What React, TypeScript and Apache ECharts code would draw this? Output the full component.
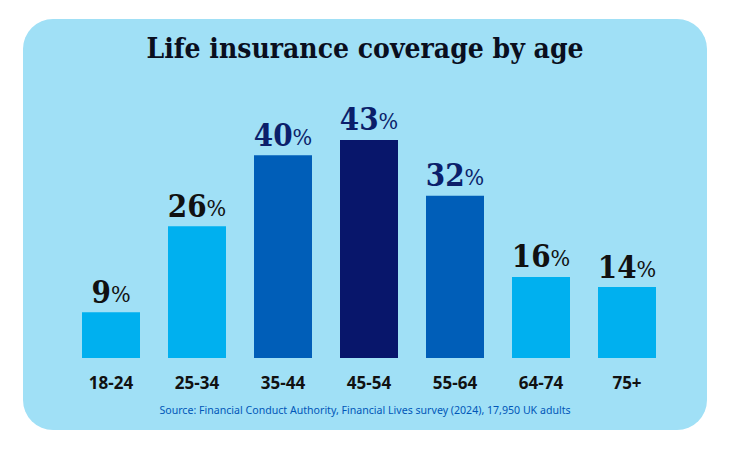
import React, { useEffect, useRef } from "react";
import * as echarts from "echarts";

const categories = ["18-24", "25-34", "35-44", "45-54", "55-64", "64-74", "75+"];
const values = [9, 26, 40, 43, 32, 16, 14];
const barColors = ["#00B0EF", "#00B0EF", "#005EB8", "#08166B", "#005EB8", "#00B0EF", "#00B0EF"];
const labelColors = ["#111111", "#111111", "#0B1F6B", "#0B1F6B", "#0B1F6B", "#111111", "#111111"];
const titleText = "Life insurance coverage by age";
const sourceText = "Source: Financial Conduct Authority, Financial Lives survey (2024), 17,950 UK adults";

const SERIF = "'DejaVu Serif Condensed', 'Liberation Serif', serif";

export default function App() {
  const ref = useRef<HTMLDivElement>(null);
  useEffect(() => {
    if (!ref.current) return;
    const chart = echarts.init(ref.current, null, { renderer: "svg" });
    chart.setOption({
      animation: false,
      backgroundColor: "#ffffff",
      graphic: [
        {
          type: "rect",
          z: -10,
          shape: { x: 23, y: 19, width: 684, height: 411, r: 30 },
          style: { fill: "#A0E0F6" },
        },
        {
          type: "text",
          left: "center",
          top: 34,
          style: {
            text: titleText,
            font: `bold 28px ${SERIF}`,
            fill: "#0A0F1E",
          },
        },
        {
          type: "text",
          left: "center",
          top: 404,
          style: {
            text: sourceText,
            font: "10.6px 'Noto Sans', sans-serif",
            fill: "#0057B8",
          },
        },
      ],
      grid: { left: 68, right: 60, top: 104.5, bottom: 93, containLabel: false },
      xAxis: {
        type: "category",
        data: categories,
        axisLine: { show: false },
        axisTick: { show: false },
        axisLabel: {
          margin: 16,
          fontSize: 17,
          fontWeight: "bold",
          fontFamily: "'Open Sans', 'Noto Sans', sans-serif",
          color: "#111111",
        },
      },
      yAxis: {
        type: "value",
        min: 0,
        max: 50,
        show: false,
        splitLine: { show: false },
      },
      series: [
        {
          type: "bar",
          barWidth: 58,
          data: values.map((v, i) => ({
            value: v,
            itemStyle: { color: barColors[i] },
            label: {
              rich: {
                n: {
                  fontSize: 31,
                  fontWeight: "bold",
                  fontFamily: SERIF,
                  color: labelColors[i],
                },
                p: {
                  fontSize: 23,
                  fontFamily: SERIF,
                  color: labelColors[i],
                  padding: [4, 0, 0, 0],
                },
              },
            },
          })),
          label: {
            show: true,
            position: "top",
            distance: 5,
            formatter: (p: any) => `{n|${p.value}}{p|%}`,
          },
        },
      ],
    });
    return () => chart.dispose();
  }, []);
  return (
    <div
      ref={ref}
      style={{ position: "fixed", left: 0, top: 0, width: 730, height: 451 }}
    />
  );
}
